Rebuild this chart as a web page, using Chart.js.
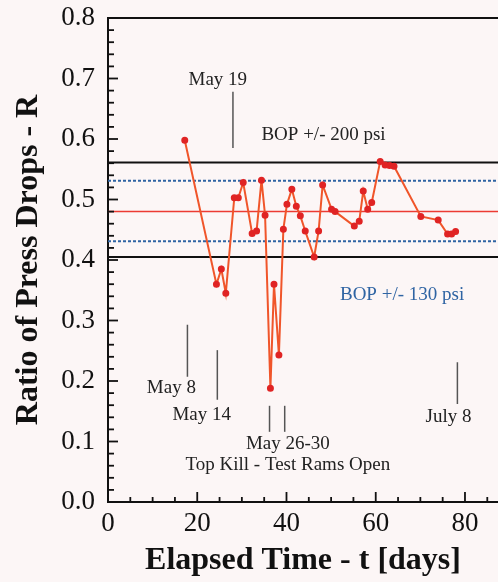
<!DOCTYPE html>
<html>
<head>
<meta charset="utf-8">
<script src="https://cdn.jsdelivr.net/npm/chart.js@4"></script>
<style>
  html, body { margin: 0; padding: 0; background: #fcf6f6; overflow: hidden; width: 498px; height: 582px; }
  #wrap { width: 504px; height: 582px; }
</style>
</head>
<body>
<div id="wrap"><canvas id="chart-r"></canvas></div>
<script>
// elapsed days and pressure drop ratio
const days = [17.2, 24.3, 25.4, 26.4, 28.3, 29.2, 30.3, 32.3, 33.3, 34.4, 35.2, 36.4, 37.2, 38.3,
  39.3, 40.1, 41.2, 42.2, 43.1, 44.2, 46.2, 47.2, 48.1, 50.1, 50.9, 55.2, 56.3, 57.2, 58.2, 59.1,
  61.0, 62.1, 63.1, 64.1, 70.1, 74.0, 76.1, 77.0, 77.9]
const ratio = [0.598, 0.360, 0.385, 0.345, 0.503, 0.503, 0.528, 0.444, 0.448, 0.532, 0.474, 0.188, 0.360, 0.243,
  0.451, 0.492, 0.517, 0.489, 0.473, 0.448, 0.405, 0.448, 0.524, 0.484, 0.480, 0.456, 0.464, 0.514, 0.484, 0.495,
  0.563, 0.557, 0.556, 0.555, 0.472, 0.466, 0.443, 0.443, 0.447]

const meanR = 0.480
const band200 = [0.405, 0.561]
const band130 = [0.431, 0.531]

const xTicks = [0, 20, 40, 60, 80]
const yTicks = [0, 0.1, 0.2, 0.3, 0.4, 0.5, 0.6, 0.7, 0.8]
const xMax = 87.4

// event markers: [day, from R, to R]
const eventLines = [[28.0, 0.678, 0.585], [17.8, 0.293, 0.207], [24.5, 0.251, 0.169],
  [36.2, 0.159, 0.116], [39.6, 0.159, 0.116], [78.3, 0.231, 0.162]]
// labels: [text, day, R, color]
const eventLabels = [
  ['May 19', 24.6, 0.697, '#222'],
  ['BOP +/- 200 psi', 48.3, 0.607, '#222'],
  ['BOP +/- 130 psi', 65.9, 0.342, '#2f64a3'],
  ['May 8', 14.2, 0.188, '#222'],
  ['May 14', 21.0, 0.144, '#222'],
  ['May 26-30', 40.3, 0.096, '#222'],
  ['Top Kill - Test Rams Open', 40.3, 0.061, '#222'],
  ['July 8', 76.3, 0.140, '#222']
]

function hline(y, color, width, dash) {
  return {
    data: [{ x: 0, y: y }, { x: xMax, y: y }],
    borderColor: color, borderWidth: width, borderDash: dash,
    pointRadius: 0, fill: false, order: 2
  }
}

const frameAndNotes = {
  id: 'frameAndNotes',
  afterDatasetsDraw(chart) {
    const c = chart.ctx
    const x = chart.scales.x, y = chart.scales.y
    const a = chart.chartArea
    c.save()
    c.strokeStyle = '#111'
    c.lineWidth = 2
    // top frame line
    c.beginPath(); c.moveTo(a.left, a.top); c.lineTo(a.right, a.top); c.stroke()
    // inward ticks
    c.lineWidth = 1.8
    for (let v = 0; v <= 0.8001; v += 0.02) {
      const major = Math.abs(v * 10 - Math.round(v * 10)) < 0.001
      const py = y.getPixelForValue(v)
      c.beginPath(); c.moveTo(a.left, py); c.lineTo(a.left + (major ? 10 : 6), py); c.stroke()
    }
    for (let v = 0; v <= xMax; v += 5) {
      const px = x.getPixelForValue(v)
      c.beginPath(); c.moveTo(px, a.bottom); c.lineTo(px, a.bottom - (v % 20 === 0 ? 10 : 5)); c.stroke()
    }
    // event markers
    c.strokeStyle = '#555'
    c.lineWidth = 1.5
    eventLines.forEach(e => {
      const px = x.getPixelForValue(e[0])
      c.beginPath(); c.moveTo(px, y.getPixelForValue(e[1])); c.lineTo(px, y.getPixelForValue(e[2])); c.stroke()
    })
    c.font = '19px "Liberation Serif"'
    c.textAlign = 'center'
    c.textBaseline = 'middle'
    eventLabels.forEach(l => {
      c.fillStyle = l[3]
      c.fillText(l[0], x.getPixelForValue(l[1]), y.getPixelForValue(l[2]))
    })
    c.restore()
  }
}

new Chart(document.getElementById('chart-r'), {
  type: 'line',
  data: {
    datasets: [
      {
        data: days.map((d, i) => ({ x: d, y: ratio[i] })),
        borderColor: '#f0552a',
        borderWidth: 2,
        pointRadius: 2.5,
        pointBackgroundColor: '#e02424',
        pointBorderColor: '#e02424',
        tension: 0,
        order: 1
      },
      hline(band200[1], '#111', 2, []),
      hline(band200[0], '#111', 2, []),
      hline(band130[1], '#2f64a3', 2, [3, 2]),
      hline(band130[0], '#2f64a3', 2, [3, 2]),
      hline(meanR, '#ec3b33', 1.5, [])
    ]
  },
  options: {
    responsive: true,
    maintainAspectRatio: false,
    animation: false,
    layout: { padding: { top: 18, right: 0, left: 0, bottom: 0 } },
    plugins: { legend: { display: false }, tooltip: { enabled: false } },
    scales: {
      x: {
        type: 'linear',
        min: 0,
        max: xMax,
        afterBuildTicks: s => { s.ticks = xTicks.map(v => ({ value: v })) },
        afterFit: s => { s.height = 80; s.paddingLeft = 0; s.paddingRight = 0 },
        grid: { display: false, drawTicks: false },
        border: { display: true, color: '#111', width: 2 },
        ticks: { color: '#111', padding: 6, font: { family: 'Liberation Serif', size: 27 } },
        title: {
          display: true, text: 'Elapsed Time - t [days]', color: '#111',
          padding: { top: 0, bottom: 2 },
          font: { family: 'Liberation Serif', size: 32, weight: 'bold' }
        }
      },
      y: {
        min: 0,
        max: 0.8,
        afterBuildTicks: s => { s.ticks = yTicks.map(v => ({ value: v })) },
        afterFit: s => { s.width = 108; s.paddingTop = 0; s.paddingBottom = 0 },
        grid: { display: false, drawTicks: false },
        border: { display: true, color: '#111', width: 2 },
        ticks: {
          color: '#111', padding: 13,
          font: { family: 'Liberation Serif', size: 27 },
          callback: v => v.toFixed(1)
        },
        title: {
          display: true, text: 'Ratio of Press Drops - R', color: '#111',
          padding: { top: 10, bottom: 0 },
          font: { family: 'Liberation Serif', size: 32, weight: 'bold' }
        }
      }
    }
  },
  plugins: [frameAndNotes]
})
</script>
</body>
</html>
